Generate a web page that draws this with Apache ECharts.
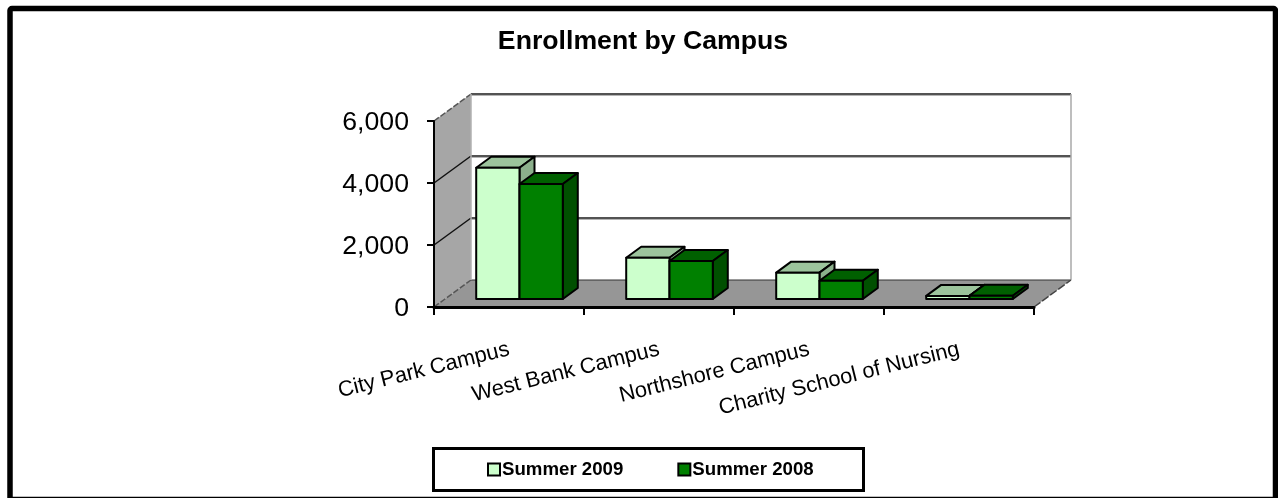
<!DOCTYPE html>
<html>
<head>
<meta charset="utf-8">
<style>html,body{margin:0;padding:0;background:#fff}#c{width:1278px;height:498px}</style>
<script src="https://cdn.jsdelivr.net/npm/echarts@6/dist/echarts.min.js"></script>
</head>
<body>
<div id="c"></div>
<script>
const categories = ['City Park Campus', 'West Bank Campus', 'Northshore Campus', 'Charity School of Nursing'];
const summer2009 = [4235, 1330, 850, 100];
const summer2008 = [3710, 1225, 590, 105];
const yTicks = [0, 2000, 4000, 6000];
const titleText = 'Enrollment by Campus';
const seriesNames = ['Summer 2009', 'Summer 2008'];

const FONT = '"Liberation Sans", Arial, sans-serif';
const WALL = { dx: 37, dy: -27 };
const BAR = { offX: 10.5, offY: -8, dx: 15, dy: -11, ratio: 0.2886 };

function poly(points, fill, stroke, lw) {
  return { type: 'polygon', shape: { points }, style: { fill, stroke, lineWidth: lw, lineJoin: 'round' } };
}
function line(a, b, stroke, lw, dash) {
  return { type: 'line', shape: { x1: a[0], y1: a[1], x2: b[0], y2: b[1] }, style: { stroke, lineWidth: lw, lineDash: dash || null } };
}

function renderWalls(params, api) {
  const cs = params.coordSys;
  const L = cs.x, R = cs.x + cs.width, B = cs.y + cs.height, T = cs.y;
  const dx = WALL.dx, dy = WALL.dy;
  const ch = [];
  ch.push(poly([[L + dx, T + dy], [R + dx, T + dy], [R + dx, B + dy], [L + dx, B + dy]], '#ffffff', null, 0));
  ch.push(poly([[L, T], [L + dx, T + dy], [L + dx, B + dy], [L, B]], '#a6a6a6', null, 0));
  ch.push(poly([[L, B], [L + dx, B + dy], [R + dx, B + dy], [R, B]], '#969696', null, 0));
  yTicks.forEach(function (v) {
    const y = api.coord([0, v])[1];
    const top = v === yTicks[yTicks.length - 1];
    const base = v === 0;
    if (!base) {
      ch.push(line([L + dx, y + dy + 1.5], [R + dx, y + dy + 1.5], '#b4b4b4', 1));
      ch.push(line([L + dx, y + dy], [R + dx, y + dy], '#1a1a1a', 1.5));
    } else {
      ch.push(line([L + dx, y + dy], [R + dx, y + dy], '#333333', 1));
    }
    ch.push(line([L, y], [L + dx, y + dy], top || base ? '#555555' : '#111111', 1.5, top || base ? [6, 2] : null));
  });
  ch.push(line([L + dx, T + dy], [L + dx, B + dy], '#b0b0b0', 1.5));
  ch.push(line([R + dx, T + dy], [R + dx, B + dy], '#a8a8a8', 1.5));
  ch.push(line([R, B], [R + dx, B + dy], '#444444', 1.5, [8, 2]));
  return { type: 'group', children: ch };
}

function barRenderer(slot, front, top, side, lw) {
  return function (params, api) {
    const idx = api.value(0);
    const base = api.coord([idx, 0]);
    const head = api.coord([idx, api.value(1)]);
    const w = api.size([1, 0])[0] * BAR.ratio;
    const x0 = base[0] + BAR.offX - w + slot * w;
    const x1 = x0 + w;
    const yB = base[1] + BAR.offY;
    const yT = head[1] + BAR.offY;
    const d = BAR.dx, e = BAR.dy;
    return {
      type: 'group',
      children: [
        poly([[x0, yT], [x1, yT], [x1 + d, yT + e], [x0 + d, yT + e]], top, '#000000', lw),
        poly([[x1, yT], [x1 + d, yT + e], [x1 + d, yB + e], [x1, yB]], side, '#000000', lw),
        poly([[x0, yT], [x1, yT], [x1, yB], [x0, yB]], front, '#000000', lw)
      ]
    };
  };
}

const chart = echarts.init(document.getElementById('c'), null, { renderer: 'canvas' });
chart.setOption({
  animation: false,
  backgroundColor: '#ffffff',
  title: {
    text: titleText, left: 638, top: 23, textAlign: 'center',
    textStyle: { fontFamily: FONT, fontSize: 26.67, fontWeight: 'bold', color: '#000000' }
  },
  grid: { left: 434, top: 121, width: 600, height: 186 },
  xAxis: {
    type: 'category', data: categories, z: 6,
    axisLine: { lineStyle: { color: '#000', width: 3 } },
    axisTick: { show: true, alignWithLabel: false, length: 8, lineStyle: { color: '#000', width: 2 } },
    axisLabel: { interval: 0, rotate: 14, margin: 42, fontFamily: FONT, fontSize: 21.8, color: '#000' }
  },
  yAxis: {
    type: 'value', min: 0, max: 6000, interval: 2000, z: 6,
    axisLine: { show: true, lineStyle: { color: '#000', width: 2 } },
    axisTick: { show: true, length: 7, lineStyle: { color: '#000', width: 2 } },
    splitLine: { show: false },
    axisLabel: {
      margin: 25, fontFamily: FONT, fontSize: 26.67, color: '#000',
      formatter: function (v) { return '{a|' + v.toLocaleString('en-US') + '}'; },
      rich: { a: { fontFamily: FONT, fontSize: 26.67, color: '#000', padding: [4, 0, 0, 0] } }
    }
  },
  legend: {
    data: seriesNames, left: 487, top: 460, itemGap: 54, itemWidth: 12, itemHeight: 12, padding: 0,
    icon: 'rect', selectedMode: false,
    itemStyle: { borderColor: '#000', borderWidth: 2 },
    textStyle: { fontFamily: FONT, fontSize: 18.67, fontWeight: 'bold', color: '#000', padding: [0, 0, 0, -3] }
  },
  graphic: [
    { type: 'rect', z: 100, silent: true, shape: { x: 10, y: 8.5, width: 1265.5, height: 491, r: 2 },
      style: { fill: 'none', stroke: '#000', lineWidth: 5.5 } },
    { type: 'rect', z: 100, silent: true, shape: { x: 433.5, y: 448.5, width: 430, height: 42 },
      style: { fill: 'none', stroke: '#000', lineWidth: 3 } }
  ],
  series: [
    { type: 'custom', name: 'walls', z: 1, silent: true, data: [[0, 0]], encode: { x: 0, y: 1 }, renderItem: renderWalls },
    { type: 'custom', name: seriesNames[0], z: 2, itemStyle: { color: '#ccffcc' },
      data: summer2009.map(function (v, i) { return [i, v]; }), encode: { x: 0, y: 1 },
      renderItem: barRenderer(0, '#ccffcc', '#9cc49c', '#8cb08c', 2) },
    { type: 'custom', name: seriesNames[1], z: 3, itemStyle: { color: '#008000' },
      data: summer2008.map(function (v, i) { return [i, v]; }), encode: { x: 0, y: 1 },
      renderItem: barRenderer(1, '#008000', '#006000', '#005000', 2) }
  ]
});
</script>
</body>
</html>
